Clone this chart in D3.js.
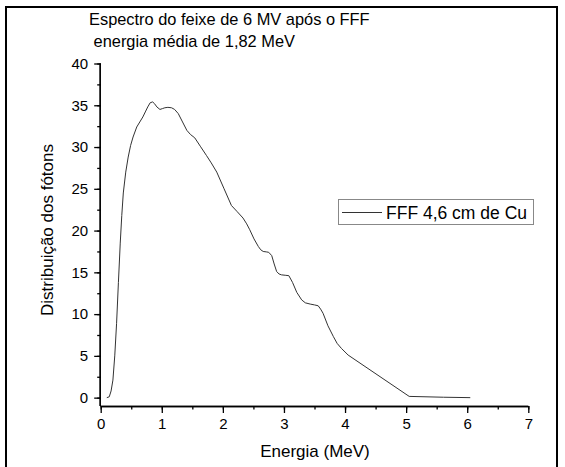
<!DOCTYPE html>
<html><head><meta charset="utf-8">
<script src="https://cdn.jsdelivr.net/npm/d3@7"></script>
<style>html,body{margin:0;padding:0;background:#fff;} svg{display:block;font-family:"Liberation Sans",Arial,sans-serif;}</style>
</head><body>
<script>
const titleLines = ["Espectro do feixe de 6 MV após o FFF", " energia média de 1,82 MeV"];
const xLabel = "Energia (MeV)";
const yLabel = "Distribuição dos fótons";
const seriesName = "FFF 4,6 cm de Cu";
const xTicks = [0,1,2,3,4,5,6,7];
const yTicks = [0,5,10,15,20,25,30,35,40];
const energy = [0.10,0.14,0.17,0.20,0.23,0.26,0.29,0.32,0.345,0.37,0.41,0.45,0.49,0.53,0.59,0.64,0.69,0.73,0.77,0.81,0.85,0.88,0.92,0.97,1.01,1.05,1.10,1.16,1.21,1.27,1.34,1.41,1.47,1.54,1.63,1.73,1.81,1.90,2.02,2.14,2.23,2.33,2.39,2.44,2.51,2.58,2.62,2.66,2.71,2.75,2.80,2.84,2.88,2.92,2.96,3.02,3.08,3.14,3.21,3.29,3.35,3.43,3.50,3.56,3.60,3.64,3.72,3.81,3.87,3.94,4.05,5.05,5.61,6.05];
const photons = [0.0,0.1,0.8,2.1,5.0,8.9,13.8,18.5,21.8,24.5,27.0,28.8,30.2,31.2,32.4,33.0,33.6,34.2,34.8,35.3,35.4,35.2,34.8,34.5,34.6,34.7,34.75,34.7,34.5,34.0,33.0,32.0,31.5,31.1,30.1,29.0,28.1,27.0,25.0,23.0,22.3,21.5,20.8,20.1,19.0,18.1,17.7,17.5,17.45,17.4,17.0,16.0,15.1,14.8,14.7,14.65,14.6,13.8,12.6,11.7,11.35,11.2,11.1,11.0,10.6,10.1,8.6,7.3,6.5,5.9,5.1,0.15,0.05,0.0];

const W = 565, H = 467;
const svg = d3.select("body").append("svg").attr("width", W).attr("height", H);
svg.append("rect").attr("width", W).attr("height", H).attr("fill", "#fff");

// frame
svg.append("path").attr("d", `M6,${H} V7 H557 V${H}`).attr("fill","none").attr("stroke","#000").attr("stroke-width",2);

const x = d3.scaleLinear().domain([0,7]).range([100.7,528.3]);
const y = d3.scaleLinear().domain([-1,40]).range([406,63.5]);

// x axis
const gx = svg.append("g").attr("transform","translate(0,406)");
gx.call(d3.axisBottom(x).tickValues(d3.range(0,7.01,0.5)).tickSize(3.5).tickFormat(""));
const gx2 = svg.append("g").attr("transform","translate(0,406)");
gx2.call(d3.axisBottom(x).tickValues(xTicks).tickSize(7).tickPadding(5).tickFormat(d3.format("d")));
[gx,gx2].forEach(g=>{g.select(".domain").attr("stroke","#000").attr("stroke-width",1.3).attr("d","M100.7,0.5H528.3");g.selectAll(".tick line").attr("stroke","#000").attr("stroke-width",1.3);});
gx2.selectAll(".tick text").attr("font-size",15).attr("fill","#000").attr("font-family","Liberation Sans, Arial, sans-serif");

// y axis
const gy = svg.append("g").attr("transform","translate(100.7,0)");
gy.call(d3.axisLeft(y).tickValues(d3.range(0,40.01,2.5)).tickSize(3.5).tickFormat(""));
const gy2 = svg.append("g").attr("transform","translate(100.7,0)");
gy2.call(d3.axisLeft(y).tickValues(yTicks).tickSize(6.5).tickPadding(6).tickFormat(d3.format("d")));
[gy,gy2].forEach(g=>{g.select(".domain").attr("stroke","#000").attr("stroke-width",1.3).attr("d","M-0.5,406V63.5");g.selectAll(".tick line").attr("stroke","#000").attr("stroke-width",1.3);});
gy2.selectAll(".tick text").attr("font-size",15).attr("fill","#000").attr("font-family","Liberation Sans, Arial, sans-serif");

// curve
const line = d3.line().x((d,i)=>x(energy[i])).y((d,i)=>y(photons[i])).curve(d3.curveLinear);
svg.append("path").datum(photons).attr("d", line).attr("fill","none").attr("stroke","#333").attr("stroke-width",1);

// titles
svg.append("text").attr("x",89).attr("y",25).attr("font-size",16.4).text(titleLines[0]);
svg.append("text").attr("x",89).attr("y",47).attr("font-size",16.4).style("white-space","pre").text(titleLines[1]);
svg.append("text").attr("x",315).attr("y",457).attr("text-anchor","middle").attr("font-size",17).text(xLabel);
svg.append("text").attr("transform","translate(53,230) rotate(-90)").attr("text-anchor","middle").attr("font-size",17).text(yLabel);

// legend
svg.append("rect").attr("x",338.5).attr("y",199.5).attr("width",195).attr("height",25).attr("fill","#fff").attr("stroke","#888").attr("stroke-width",1);
svg.append("line").attr("x1",342).attr("x2",382).attr("y1",212.5).attr("y2",212.5).attr("stroke","#333").attr("stroke-width",1);
svg.append("text").attr("x",386).attr("y",218.5).attr("font-size",17.5).text(seriesName);
</script>
</body></html>
